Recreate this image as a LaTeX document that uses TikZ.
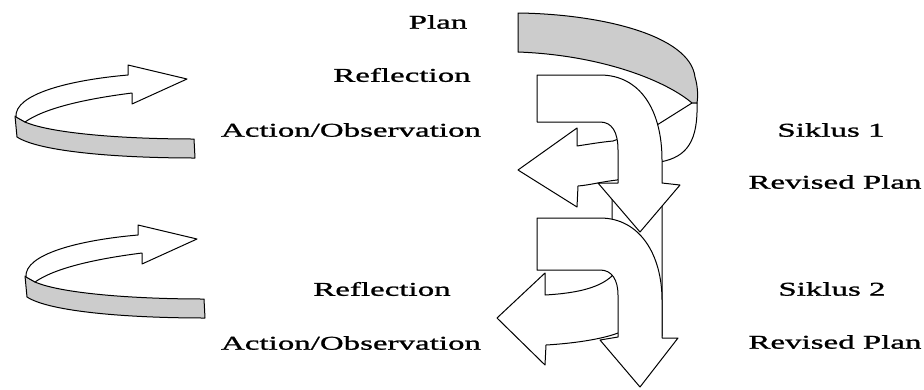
\documentclass[tikz,border=0pt]{standalone}
\usepackage{fontspec}
\newfontfamily\labfont[FakeStretch=1.69, FakeBold=1.2]{Liberation Serif}

\begin{document}
\begin{tikzpicture}[x=1pt, y=-1pt, line join=round,
	face/.style={draw, line width=1pt, fill=white},
	band/.style={draw, line width=1pt, fill=gray!40},
	lab/.style={font=\labfont\fontsize{19.5}{22}\selectfont, inner sep=0pt}]
	\useasboundingbox (0,0) rectangle (924,389);
	% curved arrows on the left, one for each cycle
	\foreach \dx/\dy in {0/0, 10/160} {
		\begin{scope}[shift={(\dx,\dy)}]
			\draw[band] (15,116) -- (17,137) .. controls (40,152) and (120,158) .. (195,158) -- (194,139) .. controls (120,139) and (50,133) .. (25,122) -- cycle;
			\draw[face] (16,117) .. controls (14,94) and (70,80) .. (128,75) -- (128,65) -- (187,79) -- (132,104) -- (132,93) .. controls (85,99) and (45,108) .. (25,122) -- cycle;
		\end{scope}
	}
	% plan ribbon, back face
	\draw[band] (518,13) .. controls (600,14) and (690,35) .. (695,77) .. controls (698,87) and (698,97) .. (697,103) -- (692,103) .. controls (665,80) and (600,55) .. (518,52) -- cycle;
	% its front face, ending in the left arrow
	\draw[face] (697,103) .. controls (698,140) and (688,157) .. (660,162) -- (617,180) .. controls (600,182) and (590,185) .. (578,186) -- (577,207) -- (518,170) -- (577,128) -- (577,146) .. controls (590,144) and (602,142) .. (613,141) -- (657,125) -- (692,103) -- cycle;
	% second ribbon, behind the lower turn
	\draw[face] (612,187) -- (662,187) -- (662,336) -- (618,333) .. controls (605,338) and (580,343) .. (546,345) -- (545,365) -- (497,318) -- (545,273) -- (545,295) .. controls (580,293) and (600,287) .. (612,276) -- cycle;
	% lower turn arrow
	\draw[face] (537,218) -- (600,218) .. controls (640,218) and (662,255) .. (662,300) -- (662,338) -- (678,338) -- (640,387) -- (600,340) -- (618,337) -- (618,295) .. controls (618,280) and (612,270) .. (600,270) -- (537,270) -- cycle;
	% upper turn arrow
	\draw[face] (537,75) -- (600,75) .. controls (640,75) and (662,110) .. (662,160) -- (662,183) -- (680,185) -- (640,232) -- (598,183) -- (618,183) -- (618,150) .. controls (618,132) and (612,122) .. (600,122) -- (537,122) -- cycle;
	% labels
	\node[lab] (plan) at (438,22) {Plan};
	\node[lab] (refl1) at (402,75) {Reflection};
	\node[lab] (act1) at (351,130) {Action/Observation};
	\node[lab] (siklus1) at (831,130) {Siklus 1};
	\node[lab] (rev1) at (835,182) {Revised Plan};
	\node[lab] (refl2) at (382,289) {Reflection};
	\node[lab] (act2) at (351,343) {Action/Observation};
	\node[lab] (siklus2) at (832,289) {Siklus 2};
	\node[lab] (rev2) at (835,342) {Revised Plan};
\end{tikzpicture}
\end{document}
